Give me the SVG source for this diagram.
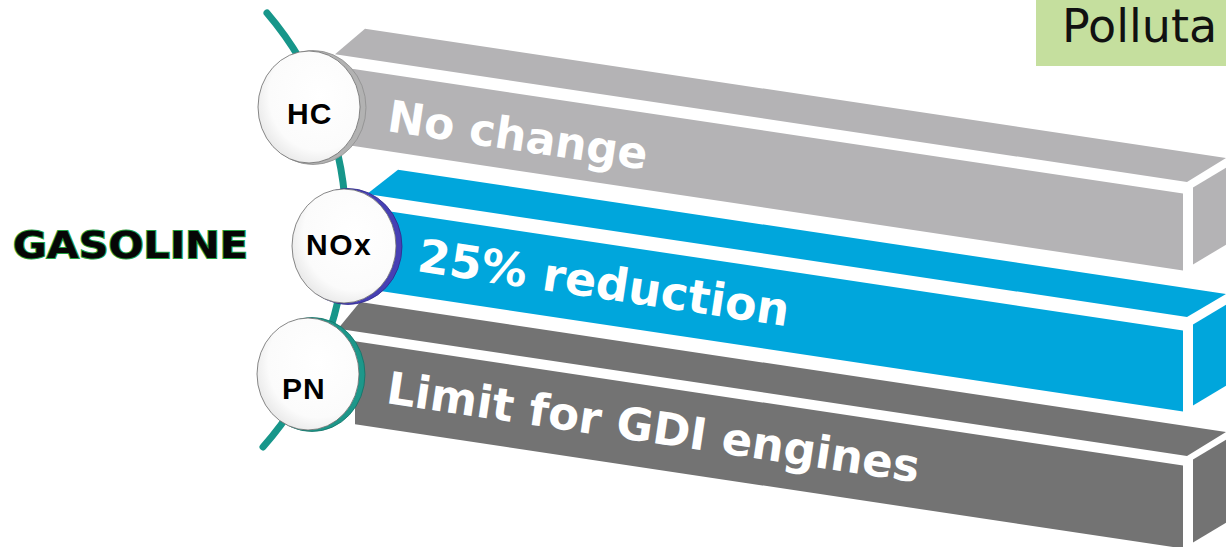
<svg xmlns="http://www.w3.org/2000/svg" width="1226" height="547" viewBox="0 0 1226 547">
<defs>
<radialGradient id="face" cx="0.6" cy="0.4" r="0.7">
<stop offset="0" stop-color="#ffffff"/>
<stop offset="0.7" stop-color="#fbfbfb"/>
<stop offset="1" stop-color="#e2e2e2"/>
</radialGradient>
</defs>
<style>
.lt{fill:#b4b3b5}
.bl{fill:#00a6dc}
.dk{fill:#737373}
.bartext{font-family:"DejaVu Sans",Verdana,sans-serif;font-weight:bold;fill:#ffffff}
.face{fill:url(#face);stroke:#6a6a6a;stroke-width:0.8}
.lbl{font-family:"Liberation Sans",Arial,sans-serif;font-weight:bold;font-size:30px;fill:#000000}
.conn{fill:none;stroke:#17968a;stroke-width:7;stroke-linecap:round}
</style>
<rect width="1226" height="547" fill="#ffffff"/>

<g id="title">
<rect x="1036" y="0" width="190" height="66" fill="#c5df9e"/>
<text x="1062" y="42" font-family="DejaVu Sans, Verdana, sans-serif" font-size="46" fill="#111111">Polluta</text>
</g>

<g id="gasoline">
<text x="13" y="258" font-family="DejaVu Sans, Verdana, sans-serif" font-weight="bold" font-size="37" textLength="235" lengthAdjust="spacingAndGlyphs" fill="#060606" stroke="#22a040" stroke-width="2" paint-order="stroke">GASOLINE</text>
</g>

<g id="bar-hc">
<polygon class="lt" points="365,28.8 1226,158 1187,182 335,54.3"/>
<polygon class="lt" points="352,68.8 1183,193.5 1183,270.5 352,145.8"/>
<polygon class="lt" points="1193,187.5 1226,167.7 1226,244.7 1193,264.5"/>
<text class="bartext" font-size="44" transform="translate(386,131) rotate(8.5)">No change</text>
</g>

<g id="bar-nox">
<polygon class="bl" points="398,169.7 1226,294 1187,317 367,194"/>
<polygon class="bl" points="372,208.8 1183,330.5 1183,411.5 372,289.8"/>
<polygon class="bl" points="1193,324.5 1226,304.7 1226,385.7 1193,405.5"/>
<text class="bartext" font-size="46" transform="translate(416,271) rotate(8.5)">25% reduction</text>
</g>

<g id="bar-pn">
<polygon class="dk" points="360,302 1226,432 1187,456 338,328.7"/>
<polygon class="dk" points="355,341.3 1183,465.5 1183,548.5 355,424.3"/>
<polygon class="dk" points="1193,459.5 1226,439.7 1226,522.7 1193,542.5"/>
<text class="bartext" font-size="45" transform="translate(385,403) rotate(8.5)">Limit for GDI engines</text>
</g>

<g id="connectors">
<path class="conn" d="M267,13 A331,331 0 0 1 263,447"/>
</g>

<g id="node-hc">
<ellipse cx="313" cy="107.5" rx="53" ry="57" fill="#b2b2b2" stroke="#8e8e8e" stroke-width="0.8"/>
<ellipse class="face" cx="309" cy="107" rx="51" ry="56"/>
<text class="lbl" x="287" y="124" letter-spacing="1">HC</text>
</g>

<g id="node-nox">
<ellipse cx="348" cy="246.5" rx="54" ry="58" fill="#4740b4" stroke="#2e2a8a" stroke-width="0.8"/>
<ellipse class="face" cx="344" cy="246" rx="52" ry="57"/>
<text class="lbl" x="306" y="255" letter-spacing="1.5">NOx</text>
</g>

<g id="node-pn">
<ellipse cx="312" cy="374.5" rx="53" ry="57" fill="#1d978a" stroke="#127267" stroke-width="0.8"/>
<ellipse class="face" cx="308" cy="374" rx="51" ry="56"/>
<text class="lbl" x="282" y="399" letter-spacing="1">PN</text>
</g>
</svg>
